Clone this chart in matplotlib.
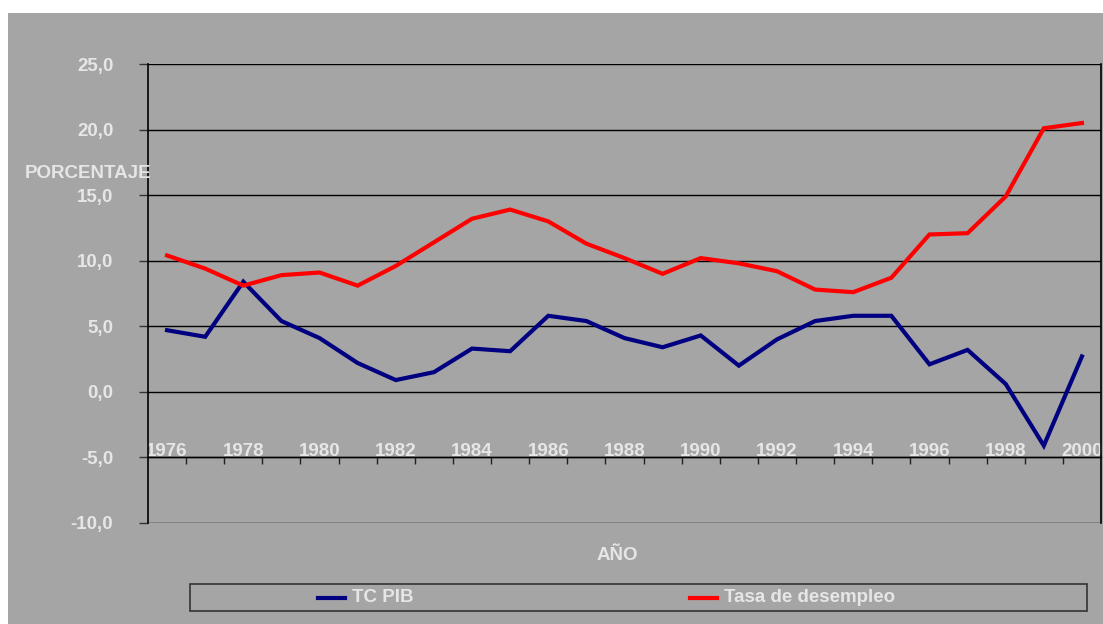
import matplotlib.pyplot as plt
import matplotlib.patches as mpatches
from matplotlib.lines import Line2D

# ── Datos ─────────────────────────────────────────────────────────────────────
years = list(range(1976, 2001))
tc_pib = [4.7, 4.2, 8.4, 5.4, 4.1, 2.2, 0.9, 1.5, 3.3, 3.1, 5.8, 5.4, 4.1,
          3.4, 4.3, 2.0, 4.0, 5.4, 5.8, 5.8, 2.1, 3.2, 0.6, -4.1, 2.7]
desempleo = [10.4, 9.4, 8.1, 8.9, 9.1, 8.1, 9.6, 11.4, 13.2, 13.9, 13.0, 11.3,
             10.2, 9.0, 10.2, 9.8, 9.2, 7.8, 7.6, 8.7, 12.0, 12.1, 14.9, 20.1, 20.5]
y_ticks = [-10, -5, 0, 5, 10, 15, 20, 25]

BG = "#A5A5A5"
TXT = "#E6E6E6"
BLUE = "#000080"
RED = "#FF0000"
FONT = ["Liberation Sans", "DejaVu Sans"]
FS = 13.5

plt.rcParams["font.family"] = FONT
plt.rcParams["font.weight"] = "bold"

W, H = 1103, 624
fig = plt.figure(figsize=(W / 100, H / 100), dpi=100, facecolor="white")
fig.patches.append(mpatches.Rectangle((8 / W, 0), 1, 1 - 13 / H,
                                      transform=fig.transFigure,
                                      facecolor=BG, edgecolor="none", zorder=-10))

ax = fig.add_axes([148 / W, 1 - 523 / H, (1101 - 148) / W, (523 - 64) / H])
ax.set_facecolor(BG)

x = list(range(len(years)))
ax.plot(x, tc_pib, color=BLUE, lw=3.0, solid_joinstyle="miter", zorder=3)
ax.plot(x, desempleo, color=RED, lw=3.0, solid_joinstyle="miter", zorder=3)

ax.set_xlim(-0.5, len(years) - 0.5)
ax.set_ylim(-10, 25)

# rejilla horizontal
for v in y_ticks:
    ax.axhline(v, color="black", lw=1.0, zorder=1)

ax.set_yticks(y_ticks)
ax.set_yticklabels([f"{v:.1f}".replace(".", ",") for v in y_ticks])
ax.tick_params(axis="y", length=6.5, width=1, color="#333333", pad=18.5,
               labelsize=FS, labelcolor=TXT)

# eje de categorías cruzando en -5
ax.spines["bottom"].set_position(("data", -5))
ax.spines["bottom"].set_linewidth(1.0)
ax.spines["left"].set_linewidth(1.2)
ax.spines["top"].set_visible(False)
ax.spines["right"].set_linewidth(1.2)
ax.set_xticks(x[::2])
ax.set_xticklabels([str(y) for y in years[::2]])
ax.set_xticks([i + 0.5 for i in x[:-1]], minor=True)
ax.tick_params(axis="x", which="major", length=0, pad=1.5,
               labelsize=FS, labelcolor=TXT)
ax.tick_params(axis="x", which="minor", length=5, width=1, color="#222222",
               direction="out")
for lbl in ax.get_xticklabels():
    lbl.set_verticalalignment("bottom")

fig.text(88 / W, 1 - 174 / H, "PORCENTAJE", ha="center", va="center",
         fontsize=FS, color=TXT, fontweight="bold")
fig.text(617 / W, 1 - 556 / H, "AÑO", ha="center", va="center",
         fontsize=FS, color=TXT, fontweight="bold")

# leyenda
fig.patches.append(mpatches.Rectangle((190 / W, 1 - 611 / H), (1087 - 190) / W,
                                      27 / H, transform=fig.transFigure,
                                      facecolor=BG, edgecolor="#333333", lw=1.2))
ly = 1 - 598 / H
fig.add_artist(Line2D([318 / W, 345 / W], [ly, ly], color=BLUE, lw=3))
fig.text(352 / W, ly, "TC PIB", ha="left", va="center", fontsize=FS,
         color=TXT, fontweight="bold")
fig.add_artist(Line2D([690 / W, 717 / W], [ly, ly], color=RED, lw=3))
fig.text(724 / W, ly, "Tasa de desempleo", ha="left", va="center", fontsize=FS,
         color=TXT, fontweight="bold")

fig.savefig("out.png", dpi=100, facecolor=fig.get_facecolor())
